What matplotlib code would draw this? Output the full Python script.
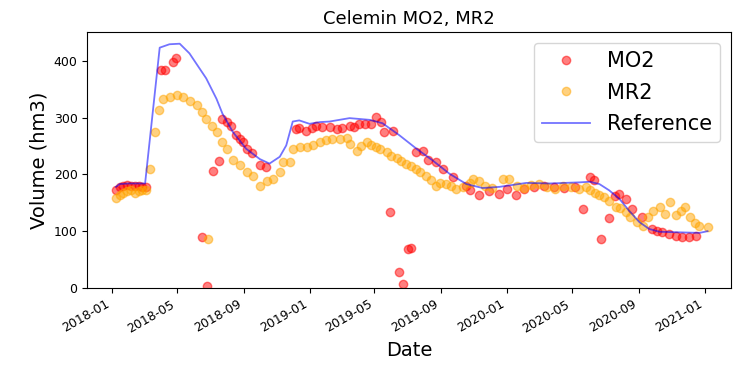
import pandas as pd
import matplotlib
matplotlib.use('Agg')
import matplotlib.pyplot as plt
import matplotlib.dates as mdates

# MO2 estimates
mo2_dates = ['2018-01-08', '2018-01-15', '2018-01-22', '2018-01-29', '2018-02-05', '2018-02-12',
             '2018-02-19', '2018-02-26', '2018-03-05', '2018-04-02', '2018-04-08', '2018-04-23',
             '2018-04-30', '2018-06-17', '2018-06-26', '2018-07-06', '2018-07-17', '2018-07-24',
             '2018-08-02', '2018-08-09', '2018-08-18', '2018-08-25', '2018-08-31', '2018-09-08',
             '2018-09-16', '2018-10-01', '2018-10-13', '2018-12-07', '2018-12-13', '2018-12-26',
             '2019-01-05', '2019-01-13', '2019-01-25', '2019-02-07', '2019-02-20', '2019-03-03',
             '2019-03-16', '2019-03-25', '2019-04-03', '2019-04-14', '2019-04-25', '2019-05-04',
             '2019-05-13', '2019-05-19', '2019-05-29', '2019-06-04', '2019-06-16', '2019-06-22',
             '2019-07-03', '2019-07-07', '2019-07-17', '2019-07-29', '2019-08-08', '2019-08-23',
             '2019-09-04', '2019-09-23', '2019-10-17', '2019-10-24', '2019-11-11', '2019-11-29',
             '2019-12-18', '2020-01-02', '2020-01-18', '2020-02-02', '2020-02-21', '2020-03-10',
             '2020-03-29', '2020-04-16', '2020-05-05', '2020-05-21', '2020-06-02', '2020-06-10',
             '2020-06-23', '2020-07-08', '2020-07-19', '2020-07-27', '2020-08-08', '2020-08-20',
             '2020-09-07', '2020-09-26', '2020-10-05', '2020-10-14', '2020-10-27', '2020-11-08',
             '2020-11-20', '2020-12-03', '2020-12-15']
mo2_values = [172, 178, 180, 181, 180, 179,
              180, 178, 177, 383, 383, 398,
              405, 90, 4, 206, 224, 297,
              293, 286, 269, 263, 257, 245,
              238, 216, 213, 280, 282, 277,
              281, 286, 283, 283, 280, 282,
              285, 284, 289, 288, 289, 301,
              292, 275, 133, 277, 28, 7,
              69, 70, 239, 242, 225, 222,
              210, 195, 180, 172, 163, 170,
              166, 175, 163, 175, 178, 180,
              178, 176, 178, 139, 195, 190,
              86, 123, 162, 166, 157, 139,
              125, 104, 100, 98, 95, 92,
              90, 89, 92]

# MR2 estimates
mr2_dates = ['2018-01-08', '2018-01-15', '2018-01-22', '2018-01-29', '2018-02-05', '2018-02-12',
             '2018-02-19', '2018-02-26', '2018-03-05', '2018-03-12', '2018-03-21', '2018-03-28',
             '2018-04-06', '2018-04-18', '2018-05-01', '2018-05-13', '2018-05-25', '2018-06-07',
             '2018-06-16', '2018-06-24', '2018-06-28', '2018-07-04', '2018-07-14', '2018-07-23',
             '2018-08-01', '2018-08-13', '2018-08-26', '2018-09-07', '2018-09-19', '2018-10-02',
             '2018-10-14', '2018-10-26', '2018-11-07', '2018-11-13', '2018-11-26', '2018-12-02',
             '2018-12-14', '2018-12-27', '2019-01-07', '2019-01-20', '2019-01-31', '2019-02-12',
             '2019-02-26', '2019-03-11', '2019-03-17', '2019-03-29', '2019-04-06', '2019-04-17',
             '2019-04-25', '2019-05-04', '2019-05-12', '2019-05-24', '2019-06-01', '2019-06-11',
             '2019-06-19', '2019-06-29', '2019-07-07', '2019-07-17', '2019-07-25', '2019-08-05',
             '2019-08-13', '2019-08-23', '2019-08-31', '2019-09-11', '2019-09-19', '2019-09-29',
             '2019-10-11', '2019-10-24', '2019-10-30', '2019-11-11', '2019-11-22', '2019-12-05',
             '2019-12-24', '2020-01-05', '2020-01-20', '2020-02-02', '2020-02-15', '2020-03-01',
             '2020-03-16', '2020-03-30', '2020-04-14', '2020-04-29', '2020-05-14', '2020-05-27',
             '2020-06-02', '2020-06-12', '2020-06-20', '2020-06-29', '2020-07-08', '2020-07-21',
             '2020-07-29', '2020-08-08', '2020-08-16', '2020-08-28', '2020-09-09', '2020-09-18',
             '2020-09-27', '2020-10-10', '2020-10-19', '2020-10-28', '2020-11-09', '2020-11-18',
             '2020-11-25', '2020-12-04', '2020-12-13', '2020-12-22', '2021-01-06']
mr2_values = [158, 163, 168, 170, 172, 168,
              170, 172, 173, 210, 275, 313,
              333, 336, 339, 336, 330, 322,
              310, 298, 86, 286, 275, 257,
              245, 225, 216, 204, 198, 180,
              189, 192, 204, 222, 222, 245,
              248, 248, 252, 257, 260, 263,
              263, 264, 254, 242, 250, 257,
              252, 248, 244, 239, 233, 228,
              224, 219, 215, 210, 205, 198,
              190, 180, 185, 183, 180, 175,
              178, 185, 192, 189, 180, 176,
              192, 192, 180, 176, 181, 183,
              178, 174, 180, 177, 175, 178,
              172, 168, 163, 160, 154, 142,
              140, 133, 125, 116, 110, 125,
              136, 142, 130, 151, 128, 135,
              142, 125, 115, 110, 107]

# reference curve
ref_dates = ['2018-01-08', '2018-01-15', '2018-02-01', '2018-03-03', '2018-03-30', '2018-04-17',
             '2018-05-06', '2018-05-24', '2018-06-12', '2018-06-24', '2018-07-13', '2018-07-24',
             '2018-08-12', '2018-09-06', '2018-10-01', '2018-10-19', '2018-11-07', '2018-11-19',
             '2018-12-01', '2018-12-13', '2019-01-01', '2019-01-20', '2019-02-07', '2019-03-16',
             '2019-04-22', '2019-05-16', '2019-06-16', '2019-07-18', '2019-08-16', '2019-09-17',
             '2019-10-18', '2019-11-17', '2019-12-18', '2020-02-06', '2020-03-20', '2020-05-15',
             '2020-06-02', '2020-06-20', '2020-07-08', '2020-07-27', '2020-08-14', '2020-09-02',
             '2020-09-20', '2020-10-09', '2020-11-15', '2020-12-22', '2021-01-06']
ref_values = [178, 183, 184, 184, 423, 429,
              430, 413, 386, 369, 333, 307,
              275, 245, 227, 219, 231, 251,
              293, 295, 289, 292, 293, 299,
              296, 290, 269, 245, 225, 201,
              183, 176, 178, 185, 184, 186,
              187, 183, 172, 157, 136, 116,
              104, 99, 98, 97, 100]

y_ticks = [0, 100, 200, 300, 400]


def main():
	fig = plt.figure(figsize=(7.33, 3.76), dpi=100)
	ax = fig.add_axes([0.119, 0.234, 0.878, 0.680])

	ax.plot(pd.to_datetime(mo2_dates), mo2_values, 'o', color='red', alpha=0.5, label='MO2')
	ax.plot(pd.to_datetime(mr2_dates), mr2_values, 'o', color='orange', alpha=0.5, label='MR2')
	ax.plot(pd.to_datetime(ref_dates), ref_values, color='blue', alpha=0.55, lw=1.3, label='Reference')

	ax.set_xlim(pd.Timestamp('2017-11-16'), pd.Timestamp('2021-02-18'))
	ax.set_ylim(0, 450)
	ax.set_yticks(y_ticks)
	ax.xaxis.set_major_locator(mdates.MonthLocator(bymonth=[1, 5, 9]))
	ax.xaxis.set_major_formatter(mdates.DateFormatter('%Y-%m'))
	plt.setp(ax.get_xticklabels(), rotation=30, ha='right')
	ax.tick_params(labelsize=9)

	ax.set_title('Celemin MO2, MR2', fontsize=13)
	ax.set_xlabel('Date', fontsize=14)
	ax.set_ylabel('Volume (hm3)', fontsize=14)
	ax.legend(loc='upper right', fontsize=15, labelspacing=0.55, handlelength=2.3)

	fig.savefig('out.png', dpi=100)


if __name__ == '__main__':
	main()
